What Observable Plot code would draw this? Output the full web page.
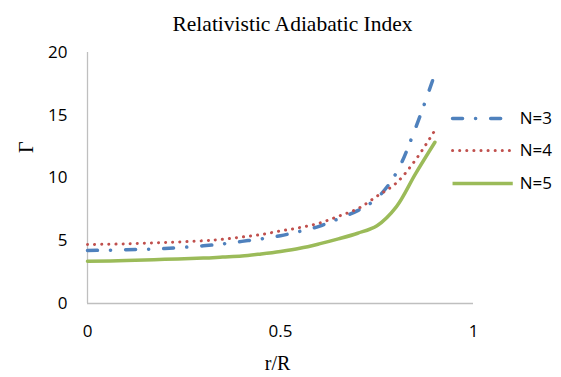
<!DOCTYPE html>
<html>
<head>
<meta charset="utf-8">
<script src="https://cdn.jsdelivr.net/npm/d3@7"></script>
<script src="https://cdn.jsdelivr.net/npm/@observablehq/plot@0.6"></script>
<style>
  html, body { margin: 0; padding: 0; background: #fff; }
</style>
</head>
<body>
<div id="chart"></div>
<script>
const title = "Relativistic Adiabatic Index";
const xLabel = "r/R";
const yLabel = "Γ";
const xTicks = [0, 0.5, 1];
const yTicks = [0, 5, 10, 15, 20];
const seriesNames = ["N=3", "N=4", "N=5"];
const seriesColors = ["#4f81bd", "#c0504d", "#9bbb59"];

const r =   [0, 0.1, 0.2, 0.3, 0.35, 0.4, 0.45, 0.5, 0.55, 0.6, 0.65, 0.7, 0.75, 0.8, 0.85, 0.9];
const gN3 = [4.22, 4.28, 4.38, 4.6, 4.75, 4.95, 5.15, 5.4, 5.75, 6.15, 6.75, 7.4, 8.4, 10.4, 14.0, 18.3];
const gN4 = [4.70, 4.75, 4.86, 5.0, 5.12, 5.3, 5.5, 5.78, 6.05, 6.4, 6.95, 7.55, 8.55, 9.6, 11.45, 13.8];
const gN5 = [3.37, 3.42, 3.52, 3.62, 3.7, 3.78, 3.95, 4.15, 4.4, 4.75, 5.15, 5.6, 6.2, 7.7, 10.35, 12.85];

const values = [gN3, gN4, gN5];
const data = [];
seriesNames.forEach((name, i) => {
  r.forEach((x, j) => data.push({series: name, r: x, g: values[i][j]}));
});

const styles = {
  "N=3": {stroke: seriesColors[0], strokeWidth: 3.5, strokeDasharray: "10 13 0.1 15", strokeLinecap: "round"},
  "N=4": {stroke: seriesColors[1], strokeWidth: 3, strokeDasharray: "0.1 7", strokeLinecap: "round"},
  "N=5": {stroke: seriesColors[2], strokeWidth: 3.5}
};

const legendYs = [14.74, 12.19, 9.56];
const legendData = seriesNames.map((s, i) => ({series: s, y: legendYs[i]}));

const sans = "'Open Sans', 'Liberation Sans', sans-serif";
const serif = "'Liberation Serif', 'DejaVu Serif', serif";

const chart = Plot.plot({
  width: 561,
  height: 377,
  marginLeft: 87,
  marginRight: 88,
  marginTop: 52,
  marginBottom: 74,
  style: {fontFamily: sans, background: "#fff", overflow: "visible"},
  x: {domain: [0, 1], ticks: xTicks, tickSize: 0, tickPadding: 20, label: null, tickFormat: d => String(d)},
  y: {domain: [0, 20], ticks: yTicks, tickSize: 0, tickPadding: 20, label: null},
  marks: [
    Plot.axisX({ticks: xTicks, tickSize: 0, tickPadding: 21, fontSize: 17, fill: "#000", label: null, tickFormat: d => String(d)}),
    Plot.axisY({ticks: yTicks, tickSize: 0, tickPadding: 20, fontSize: 17, fill: "#000", label: null}),
    Plot.ruleX([0], {stroke: "#bfbfbf", strokeWidth: 1.3}),
    Plot.ruleY([0], {stroke: "#bfbfbf", strokeWidth: 1.3}),
    ...seriesNames.map(s => Plot.line(data.filter(d => d.series === s), {
      x: "r", y: "g", curve: "catmull-rom", ...styles[s]
    })),
    ...seriesNames.map((s, i) => Plot.ruleY([legendData[i]], {
      y: "y", x1: 0.947, x2: 1.103, clip: false, ...styles[s]
    })),
    Plot.text(legendData, {x: 1.12, y: "y", text: "series", textAnchor: "start", fontSize: 17, fill: "#000", fontFamily: sans}),
    Plot.text([title], {frameAnchor: "top", dy: -37, dx: 12, text: d => d, fontSize: 21.5, fontFamily: serif, fill: "#000"}),
    Plot.text([xLabel], {frameAnchor: "bottom", dy: 66, text: d => d, fontSize: 20, fontFamily: serif, fill: "#000", dx: -3}),
    Plot.text([yLabel], {frameAnchor: "left", dx: -61, dy: -25, rotate: -90, text: d => d, fontSize: 20, fontFamily: serif, fill: "#000"})
  ]
});
document.getElementById("chart").appendChild(chart);
</script>
</body>
</html>
